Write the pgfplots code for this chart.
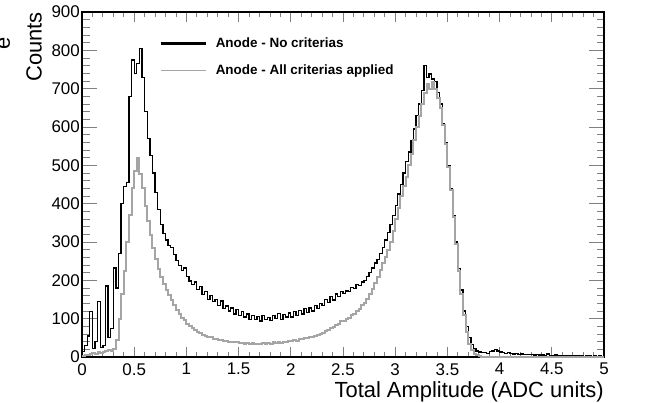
\documentclass[border=0pt]{standalone}
\usepackage{pgfplots}
\pgfplotsset{compat=1.18}
\usepackage{pgfplotstable}
\usepackage{fontspec}
\setmainfont{Liberation Sans}
\definecolor{histgray}{RGB}{165,165,165}
\pgfplotstableread{
x b g
0 15 2
25 30 4
50 55 6
75 118 8
100 22 10
125 40 8
150 144 12
175 25 10
200 30 14
225 185 16
250 50 18
275 75 15
300 232 22
325 180 45
350 270 100
375 400 165
400 445 225
425 455 300
450 680 370
475 775 440
500 740 485
525 765 520
550 805 478
575 730 440
600 640 395
625 570 355
650 525 318
675 480 285
700 430 255
725 385 230
750 345 210
775 322 190
800 305 175
825 290 162
850 285 148
875 268 135
900 252 122
925 238 112
950 226 102
975 232 96
1000 210 86
1025 198 81
1050 190 75
1075 196 71
1100 176 66
1125 184 63
1150 163 58
1175 170 56
1200 150 52
1225 160 51
1250 144 48
1275 150 47
1300 135 45
1325 146 44
1350 127 42
1375 133 42
1400 120 40
1425 128 40
1450 112 38
1475 124 38
1500 108 36
1525 118 37
1550 104 35
1575 112 36
1600 98 34
1625 108 36
1650 97 33
1675 106 35
1700 94 34
1725 108 37
1750 97 34
1775 103 36
1800 95 35
1825 108 38
1850 100 36
1875 113 39
1900 97 37
1925 110 40
1950 104 39
1975 115 42
2000 104 41
2025 118 44
2050 108 43
2075 121 46
2100 112 46
2125 126 49
2150 116 49
2175 128 53
2200 120 52
2225 135 56
2250 127 57
2275 140 61
2300 134 63
2325 150 69
2350 142 70
2375 157 76
2400 149 78
2425 164 84
2450 158 86
2475 170 93
2500 165 95
2525 172 100
2550 170 102
2575 182 109
2600 178 113
2625 190 121
2650 186 126
2675 196 135
2700 200 141
2725 210 152
2750 220 165
2775 232 178
2800 245 192
2825 255 210
2850 270 228
2875 285 245
2900 305 262
2925 325 280
2950 345 300
2975 370 330
3000 395 360
3025 425 390
3050 450 420
3075 480 445
3100 510 470
3125 535 500
3150 565 530
3175 595 565
3200 630 600
3225 660 630
3250 695 660
3275 760 690
3300 730 712
3325 738 700
3350 725 718
3375 718 700
3400 690 675
3425 660 650
3450 610 605
3475 560 555
3500 500 495
3525 440 435
3550 370 365
3575 300 295
3600 230 225
3625 175 165
3650 120 110
3675 80 65
3700 50 35
3725 32 18
3750 22 8
3775 16 4
3800 13 2
3825 11 1
3850 12 1
3875 10 1
3900 14 1
3925 16 1
3950 19 1
3975 16 1
4000 13 0
4025 12 0
4050 10 0
4075 11 0
4100 9 0
4125 8 0
4150 9 0
4175 7 0
4200 8 0
4225 7 0
4250 6 0
4275 7 0
4300 6 0
4325 5 0
4350 6 0
4375 5 0
4400 5 0
4425 4 0
4450 8 0
4475 4 0
4500 4 0
4525 5 0
4550 4 0
4575 3 0
4600 4 0
4625 3 0
4650 4 0
4675 3 0
4700 3 0
4725 4 0
4750 3 0
4775 3 0
4800 2 0
4825 3 0
4850 3 0
4875 2 0
4900 3 0
4925 2 0
4950 3 0
4975 2 0
5000 2 0
}\hist
\begin{document}
\begin{tikzpicture}
\useasboundingbox (-82bp,-46bp) rectangle (572bp,357bp);
\begin{axis}[
  at={(0,0)}, anchor=south west,
  scale only axis, width=522bp, height=345bp,
  xmin=0, xmax=5000, ymin=0, ymax=900,
  axis line style={line width=1.2bp},
  xtick={0,500,...,5000},
  xticklabels={0,0.5,1,1.5,2,2.5,3,3.5,4,4.5,5},
  ytick={0,100,...,900},
  minor x tick num=4, minor y tick num=4,
  tick align=inside,
  xtick pos=both, ytick pos=both,
  xtick style={line width=0.8bp,/pgfplots/major tick length=10bp},
  minor x tick style={line width=0.8bp,/pgfplots/minor tick length=5bp},
  ytick style={line width=0.8bp,/pgfplots/major tick length=15bp},
  minor y tick style={line width=0.8bp,/pgfplots/minor tick length=7.5bp},
  /pgf/number format/assume math mode=true,
  ticklabel style={font=\fontsize{17}{20}\selectfont},
  xticklabel style={inner sep=0pt, yshift=-6bp},
  yticklabel style={inner sep=0pt, xshift=-2bp},
  xlabel={Total Amplitude (ADC units)},
  ylabel={Counts},
  label style={font=\fontsize{22}{26}\selectfont},
  xlabel style={at={(axis description cs:1,0)}, anchor=base east, inner sep=0pt, yshift=-40bp},
  ylabel style={at={(axis description cs:0,1)}, anchor=south east, inner sep=0pt, yshift=40bp},
  legend style={draw=none, fill=none, at={(axis description cs:0.1494,0.9305)}, anchor=north west,
    inner sep=0pt, font=\fontsize{13.5}{15}\selectfont\bfseries, row sep=11bp,
    nodes={inner sep=2pt}, /tikz/every odd column/.style={column sep=6bp}},
  legend cell align=left,
  legend image code/.code={\draw[#1] (0bp,0bp) -- (45bp,0bp);},
]
\addlegendimage{black, line width=2.6bp}
\addlegendentry{Anode - No criterias}
\addlegendimage{histgray, line width=0.9bp}
\addlegendentry{Anode - All criterias applied}
\addplot[const plot, black, line width=1.3bp, forget plot] table[x=x, y=b] {\hist};
\addplot[const plot, histgray, line width=2bp, forget plot] table[x=x, y=g] {\hist};
\node[anchor=base west, inner sep=0pt, font=\fontsize{17}{20}\selectfont] at (axis description cs:1,0) [xshift=3bp, yshift=1bp] {×10\textsuperscript{3}};
\end{axis}
\node[rotate=90, font=\fontsize{22}{26}\selectfont, inner sep=0pt] at (-78bp,314bp) {e};
\end{tikzpicture}
\end{document}
